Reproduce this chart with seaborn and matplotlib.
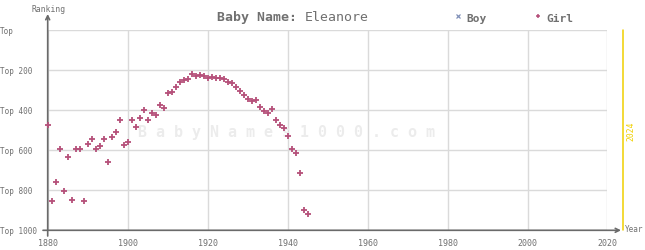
import matplotlib
matplotlib.use("Agg")
import matplotlib.pyplot as plt
from matplotlib.lines import Line2D
import seaborn as sns
import pandas as pd

# ---- data ----
years = list(range(1880, 1946))
girl_ranks = [475, 855, 760, 595, 805, 635, 850, 595, 595, 855,
              570, 545, 595, 580, 545, 660, 535, 510, 450, 575,
              560, 450, 485, 440, 400, 450, 415, 425, 375, 390,
              315, 310, 285, 260, 250, 245, 220, 230, 225, 230,
              240, 235, 240, 240, 245, 260, 265, 285, 305, 325,
              345, 355, 350, 385, 405, 415, 395, 450, 475, 490,
              530, 595, 615, 715, 900, 920]
x_ticks = [1880, 1900, 1920, 1940, 1960, 1980, 2000, 2020]
y_ticks = [0, 200, 400, 600, 800, 1000]
y_labels = ["Top", "Top 200", "Top 400", "Top 600", "Top 800", "Top 1000"]
title_bold = "Baby Name:"
title_name = "Eleanore"
current_year = 2024

df = pd.DataFrame({"year": years, "rank": girl_ranks})

sns.set_theme(style="white")
plt.rcParams["font.family"] = ["DejaVu Sans Mono", "DejaVu Sans"]

W, H = 645, 250
fig = plt.figure(figsize=(W / 100, H / 100), dpi=100)
L, R, T, B = 47.7, 607.5, 30.3, 230.3
ax = fig.add_axes([L / W, 1 - B / H, (R - L) / W, (B - T) / H])

TXT = "#707070"
AXC = "#6a6a6a"
GRID = "#dadada"
GIRL = "#b5507a"
BOY = "#8090b8"

sns.scatterplot(data=df, x="year", y="rank", marker="+", color=GIRL,
                s=14, linewidth=1.3, ax=ax, legend=False, zorder=5)
for coll in ax.collections:
    coll.set_clip_on(False)

ax.set_xlim(1880, 2020)
ax.set_ylim(1000, 0)
ax.set_xticks(x_ticks)
ax.set_yticks(y_ticks)
ax.set_yticklabels(y_labels)
ax.set_xlabel("")
ax.set_ylabel("")
ax.grid(True, color=GRID, lw=1)
ax.set_axisbelow(True)
for s in ax.spines.values():
    s.set_visible(False)
ax.tick_params(axis="both", length=0, colors=TXT)
ax.tick_params(axis="y", pad=34.3, labelsize=5.5)
ax.tick_params(axis="x", pad=6, labelsize=6)
for lab in ax.get_yticklabels():
    lab.set_horizontalalignment("left")

# axes lines with arrows
ax.annotate("", xy=(0, (B - 14) / (B - T)), xytext=(0, (B - 236) / (B - T)),
            xycoords="axes fraction",
            arrowprops=dict(arrowstyle="->", color=AXC, lw=1.2, mutation_scale=7,
                            shrinkA=0, shrinkB=0), zorder=3)
ax.annotate("", xy=((621 - L) / (R - L), 0), xytext=((43 - L) / (R - L), 0),
            xycoords="axes fraction",
            arrowprops=dict(arrowstyle="->", color=AXC, lw=1.2, mutation_scale=7,
                            shrinkA=0, shrinkB=0), zorder=3)

# current year line
ax.axvline(current_year, ymin=0, ymax=1, color="#f0d000", lw=1.1, clip_on=False)
ax.text(2025.8, 507, str(current_year), rotation=90, color="#f0d000",
        fontsize=5.8, ha="center", va="center", clip_on=False)

# watermark
ax.text((287 - L) / (R - L), (B - 133) / (B - T),
        " ".join("BabyNames1000.com"), transform=ax.transAxes,
        color="#ececec", fontsize=10.8, fontweight="bold",
        ha="center", va="center", zorder=1)

# labels
fig.text(31.7 / W, 1 - 11.5 / H, "Ranking", color=TXT, fontsize=5.8,
         ha="left", va="baseline")
fig.text(625 / W, 1 - 230 / H, "Year", color=TXT, fontsize=5.5,
         ha="left", va="center")

# title
fig.text(217 / W, 1 - 20.7 / H, title_bold, color=TXT, fontsize=9.5,
         fontweight="bold", ha="left", va="baseline")
fig.text(304.4 / W, 1 - 20.7 / H, title_name, color=TXT, fontsize=9.5,
         ha="left", va="baseline")

# legend
fig.add_artist(Line2D([458.3 / W], [1 - 15.7 / H], marker="x", color=BOY,
                      markersize=2.5, mew=0.9, transform=fig.transFigure))
fig.text(466.7 / W, 1 - 21.5 / H, "Boy", color=TXT, fontsize=8,
         fontweight="bold", ha="left", va="baseline")
fig.add_artist(Line2D([538.3 / W], [1 - 15.7 / H], marker="+", color=GIRL,
                      markersize=3, mew=1.1, transform=fig.transFigure))
fig.text(546.7 / W, 1 - 21.5 / H, "Girl", color=TXT, fontsize=8,
         fontweight="bold", ha="left", va="baseline")

fig.savefig("out.png", dpi=100)
